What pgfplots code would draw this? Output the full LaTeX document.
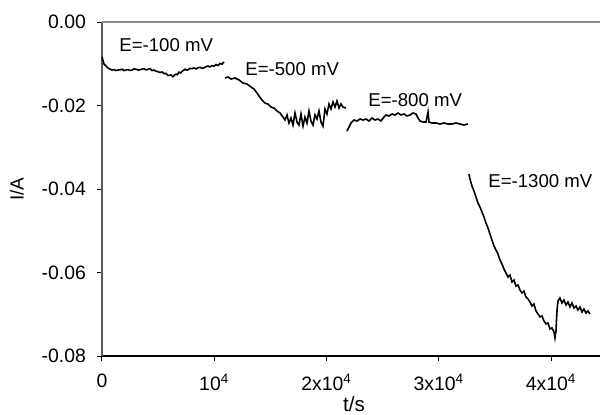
\documentclass[border=0pt]{standalone}
\usepackage{pgfplots}
\pgfplotsset{compat=1.18}
\usepackage{fontspec}
\setmainfont{Liberation Sans}
\definecolor{axgray}{HTML}{5A5A5A}
\definecolor{topgray}{HTML}{888888}

\begin{document}
\begin{tikzpicture}
\useasboundingbox (-51pt,-29pt) rectangle (249pt,178pt);
\begin{axis}[
  scale only axis, width=249pt, height=167pt,
  xmin=0, xmax=44350, ymin=-0.08, ymax=0,
  axis lines*=left,
  x axis line style={black, line width=0.6pt},
  y axis line style={axgray, line width=0.6pt},
  tick align=outside, major tick length=2.5pt,
  tick style={black, line width=0.5pt},
  xtick={0,10000,20000,30000,40000},
  xticklabels={0,10\textsuperscript{4},2x10\textsuperscript{4},3x10\textsuperscript{4},4x10\textsuperscript{4}},
  ytick={0,-0.02,-0.04,-0.06,-0.08},
  scaled x ticks=false, scaled y ticks=false,
  yticklabel style={/pgf/number format/fixed, /pgf/number format/fixed zerofill,
    /pgf/number format/precision=2, xshift=-2pt},
  /pgf/number format/assume math mode=true,
  tick label style={font=\fontsize{9.7}{11}\selectfont},
  xticklabel style={yshift=-3pt},
  xlabel={t/s}, ylabel={I/A},
  xlabel style={font=\fontsize{10.3}{12}\selectfont,
    at={(axis description cs:0.506,-0.144)}, anchor=center},
  ylabel style={font=\fontsize{9.5}{11}\selectfont,
    at={(axis description cs:-0.171,0.5)}, anchor=center},
  clip=false,
]
\draw[topgray, line width=0.6pt] (rel axis cs:0,1) -- (rel axis cs:1,1);
% E = -100 mV
\addplot[black, line width=0.8pt] coordinates {
(0,-0.00838) (178,-0.01006) (534,-0.01102) (890,-0.01150) (1069,-0.01140) (1247,-0.01162)
(1425,-0.01150) (1603,-0.01145) (1781,-0.01130) (1959,-0.01164) (2137,-0.01150) (2315,-0.01140)
(2494,-0.01160) (2672,-0.01154) (2850,-0.01120) (3028,-0.01130)
(3206,-0.01150) (3384,-0.01145) (3562,-0.01128) (3740,-0.01121) (3918,-0.01145) (4096,-0.01135)
(4274,-0.01115) (4453,-0.01164) (4631,-0.01150) (4809,-0.01178)
(4987,-0.01190) (5165,-0.01209) (5343,-0.01195) (5521,-0.01236) (5699,-0.01230) (5877,-0.01281) (6144,-0.01269) (6322,-0.01312)
(6456,-0.01270) (6590,-0.01250) (6723,-0.01260) (6857,-0.01202) (7000,-0.01220) (7124,-0.01183) (7258,-0.01160) (7391,-0.01130) (7524,-0.01150) (7658,-0.01147)
(7836,-0.01110) (8015,-0.01116) (8193,-0.01100) (8371,-0.01123) (8549,-0.01095) (8727,-0.01085) (8905,-0.01110) (9083,-0.01097) (9261,-0.01070) (9439,-0.01054)
(9618,-0.01075) (9796,-0.01044) (9974,-0.01060) (10152,-0.01018) (10330,-0.01040) (10508,-0.00992) (10686,-0.01011) (10864,-0.00958)
};
% E = -500 mV
\addplot[black, line width=0.8pt] coordinates {
(10953,-0.01341) (11220,-0.01317) (11487,-0.01365) (11844,-0.01341) (12200,-0.01389)
(12556,-0.01461) (12912,-0.01485) (13268,-0.01557) (13536,-0.01605) (13803,-0.01700)
(13981,-0.01772) (14248,-0.01868) (14515,-0.01940) (14782,-0.01964) (15049,-0.02036)
(15317,-0.02060) (15584,-0.02132) (15851,-0.02179) (16118,-0.02275) (16296,-0.02347)
(16474,-0.02227) (16652,-0.02419) (16830,-0.02299) (17009,-0.02467) (17187,-0.02179)
(17365,-0.02395) (17543,-0.02467) (17721,-0.02203) (17899,-0.02491) (18077,-0.02275)
(18255,-0.02419) (18433,-0.02132) (18611,-0.02371) (18790,-0.02467) (18968,-0.02227)
(19146,-0.02323) (19324,-0.02132) (19502,-0.02395) (19680,-0.02491) (19858,-0.02084)
(20036,-0.02203) (20214,-0.01964) (20392,-0.02084) (20571,-0.01916) (20749,-0.02036)
(20927,-0.01892) (21105,-0.02060) (21283,-0.01964) (21461,-0.02036) (21728,-0.02060)
};
% E = -800 mV
\addplot[black, line width=0.8pt] coordinates {
(21817,-0.02611) (21995,-0.02515) (22173,-0.02419) (22441,-0.02347) (22708,-0.02371)
(22975,-0.02323) (23242,-0.02347) (23509,-0.02323) (23776,-0.02371) (24044,-0.02299)
(24311,-0.02347) (24578,-0.02323) (24845,-0.02371) (25112,-0.02275) (25290,-0.02227)
(25557,-0.02251) (25825,-0.02203) (26092,-0.02227) (26359,-0.02179) (26626,-0.02227)
(26893,-0.02203) (27160,-0.02251) (27427,-0.02227) (27695,-0.02179) (27962,-0.02203)
(28140,-0.02299) (28318,-0.02371) (28585,-0.02395) (28852,-0.02395) (29030,-0.02156)
(29119,-0.02395) (29387,-0.02419) (29743,-0.02419) (30099,-0.02443) (30455,-0.02419)
(30811,-0.02443) (31168,-0.02443) (31524,-0.02419) (31880,-0.02443) (32236,-0.02467)
(32592,-0.02443)
};
% E = -1300 mV
\addplot[black, line width=0.8pt] coordinates {
(32681,-0.03640) (32770,-0.03760) (32949,-0.03928) (33127,-0.04048) (33305,-0.04191)
(33483,-0.04335) (33661,-0.04431) (33839,-0.04551) (34017,-0.04670) (34195,-0.04814)
(34373,-0.04934) (34551,-0.05077) (34730,-0.05221) (34908,-0.05365) (35086,-0.05461)
(35264,-0.05556) (35442,-0.05700) (35620,-0.05796) (35798,-0.05916) (35976,-0.06011)
(36154,-0.06107) (36332,-0.06059) (36511,-0.06227) (36689,-0.06179) (36867,-0.06323)
(37045,-0.06299) (37223,-0.06419) (37401,-0.06490) (37579,-0.06443) (37757,-0.06586)
(37935,-0.06634) (38113,-0.06706) (38292,-0.06802) (38470,-0.06754) (38648,-0.06922)
(38826,-0.06993) (39004,-0.07065) (39182,-0.07041) (39360,-0.07161) (39538,-0.07233)
(39716,-0.07209) (39894,-0.07353) (40073,-0.07329) (40251,-0.07425) (40340,-0.07568)
(40429,-0.07401) (40518,-0.06922) (40607,-0.06682) (40785,-0.06610) (40963,-0.06730)
(41141,-0.06658) (41319,-0.06778) (41497,-0.06706) (41675,-0.06826) (41854,-0.06730)
(42032,-0.06850) (42210,-0.06802) (42388,-0.06898) (42566,-0.06826) (42744,-0.06946)
(42922,-0.06874) (43100,-0.06969) (43278,-0.06922) (43456,-0.06993)
};
\begin{scope}[every node/.style={anchor=west, inner sep=0pt, font=\fontsize{9.3}{11}\selectfont}]
\node at (axis cs:1514,-0.0055) {E=-100 mV};
\node at (axis cs:12734,-0.0113) {E=-500 mV};
\node at (axis cs:23687,-0.0187) {E=-800 mV};
\node at (axis cs:34373,-0.0381) {E=-1300 mV};
\end{scope}
\end{axis}
\end{tikzpicture}
\end{document}
